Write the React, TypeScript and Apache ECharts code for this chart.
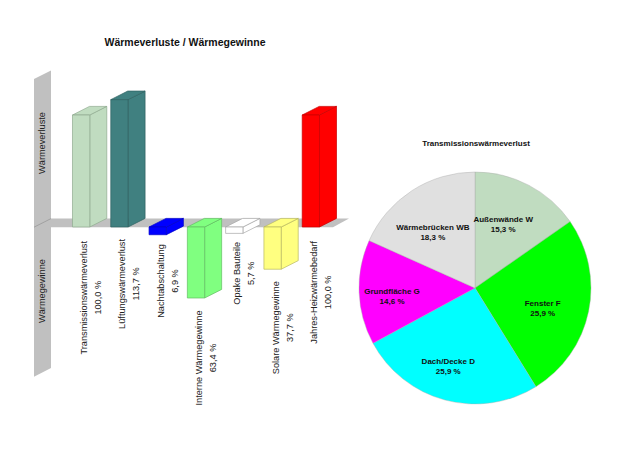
import React, { useEffect, useRef } from "react";
import * as echarts from "echarts";

const categories = ["Transmissionswärmeverlust", "Lüftungswärmeverlust", "Nachtabschaltung", "Interne Wärmegewinne", "Opake Bauteile", "Solare Wärmegewinne", "Jahres-Heizwärmebedarf"];
const barValues = [100.0, 113.7, -6.9, -63.4, -5.7, -37.7, 100.0];
const barColors = ["#c0dcc0", "#408080", "#0000ff", "#80ff80", "#ffffff", "#ffff80", "#ff0000"];
const barEdges = ["#8fab8f", "#2f6262", "#0000c8", "#62bd62", "#a8a8a8", "#b9b960", "#c80000"];
const labelGaps = [14, 12, 9.5, 12.5, 8.5, 12, 14];

const pieNames = ["Außenwände W", "Fenster F", "Dach/Decke D", "Grundfläche G", "Wärmebrücken WB"];
const pieValues = [15.3, 25.9, 25.9, 14.6, 18.3];
const pieColors = ["#c0dcc0", "#00ff00", "#00ffff", "#ff00ff", "#e0e0e0"];
const pieLabelOffsets = [[0, -9], [8, 8], [-11, 20], [-22, 6], [-9, -4]];

const FONT = "'Liberation Sans', Arial, sans-serif";
const LABEL_SIZE = 9.2;
const LABEL_FONT = `${LABEL_SIZE}px ${FONT}`;
const DEPTH_X = 17;
const DEPTH_Y = 8.6;
const WALL = "#c0c0c0";

const fmt = (v: number) => Math.abs(v).toFixed(1).replace(".", ",") + " %";

function textWidth(text: string) {
  const ctx = document.createElement("canvas").getContext("2d")!;
  ctx.font = `${LABEL_SIZE}px "Liberation Sans", Arial, sans-serif`;
  return ctx.measureText(text).width;
}

function renderBar(params: any, api: any) {
  const i = api.value(0);
  const v = api.value(1);
  const [cx, y0] = api.coord([i, 0]);
  const [, y1] = api.coord([i, v]);
  const w = api.size([1, 0])[0] * 0.452;
  const l = cx - w / 2;
  const r = cx + w / 2;
  const top = Math.min(y0, y1);
  const bottom = Math.max(y0, y1);
  const style = { fill: barColors[i], stroke: barEdges[i], lineWidth: 0.7 };
  const anchor = (v > 0 ? y0 : bottom) + labelGaps[i];
  const name = categories[i];
  const rot = Math.PI / 2;
  return {
    type: "group",
    children: [
      { type: "polygon", shape: { points: [[r, top], [r + DEPTH_X, top - DEPTH_Y], [r + DEPTH_X, bottom - DEPTH_Y], [r, bottom]] }, style },
      { type: "polygon", shape: { points: [[l, top], [l + DEPTH_X, top - DEPTH_Y], [r + DEPTH_X, top - DEPTH_Y], [r, top]] }, style },
      { type: "rect", shape: { x: l, y: top, width: w, height: bottom - top }, style },
      { type: "text", x: cx + 3, y: anchor, rotation: rot, style: { text: name, align: "right", verticalAlign: "middle", font: LABEL_FONT, fill: "#222" } },
      { type: "text", x: cx + 17, y: anchor + textWidth(name) / 2, rotation: rot, style: { text: fmt(v), align: "center", verticalAlign: "middle", font: LABEL_FONT, fill: "#222" } },
    ],
  };
}

export default function App() {
  const ref = useRef<HTMLDivElement>(null);
  useEffect(() => {
    const chart = echarts.init(ref.current!, undefined, { renderer: "svg" });
    chart.setOption({
      animation: false,
      backgroundColor: "#ffffff",
      title: [
        { text: "Wärmeverluste / Wärmegewinne", left: 180, top: 31, textAlign: "center", textStyle: { fontFamily: FONT, fontSize: 10.5, fontWeight: "bold", color: "#111" } },
        { text: "Transmissionswärmeverlust", left: 471, top: 134, textAlign: "center", textStyle: { fontFamily: FONT, fontSize: 8, fontWeight: "bold", color: "#111" } },
      ],
      grid: { left: 62, width: 268, top: 81.4, height: 291.2 },
      xAxis: { type: "category", data: categories, show: false },
      yAxis: { type: "value", min: -130, max: 130, show: false },
      graphic: [
        { type: "polygon", z: 0, shape: { points: [[34, 79], [51, 70.5], [51, 368], [34, 376.7]] }, style: { fill: WALL } },
        { type: "polygon", z: 0, shape: { points: [[34, 227.2], [51, 218.6], [349, 218.6], [333, 227.2]] }, style: { fill: WALL } },
        { type: "line", z: 1, shape: { x1: 34, y1: 227.2, x2: 51, y2: 218.6 }, style: { stroke: "#8c8c8c", lineWidth: 0.6 } },
        { type: "text", z: 1, x: 42, y: 143, rotation: Math.PI / 2, style: { text: "Wärmeverluste", align: "center", verticalAlign: "middle", font: LABEL_FONT, fill: "#222" } },
        { type: "text", z: 1, x: 42, y: 291, rotation: Math.PI / 2, style: { text: "Wärmegewinne", align: "center", verticalAlign: "middle", font: LABEL_FONT, fill: "#222" } },
      ],
      series: [
        {
          type: "custom",
          z: 3,
          coordinateSystem: "cartesian2d",
          renderItem: renderBar,
          clip: false,
          data: barValues.map((v, i) => [i, v]),
          encode: { x: 0, y: 1 },
        },
        {
          type: "pie",
          center: [475, 288],
          radius: [0, 116],
          startAngle: 90,
          clockwise: true,
          itemStyle: { borderColor: "#a8a8a8", borderWidth: 0.4 },
          label: {
            position: "inner",
            fontFamily: FONT,
            fontSize: 8,
            fontWeight: "bold",
            color: "#111",
            lineHeight: 10,
            align: "center",
            formatter: (p: any) => `${p.name}\n${fmt(p.value)}`,
          },
          labelLine: { show: false },
          data: pieNames.map((name, i) => ({
            name,
            value: pieValues[i],
            itemStyle: { color: pieColors[i] },
            label: { offset: pieLabelOffsets[i] },
          })),
        },
      ],
    });
    return () => chart.dispose();
  }, []);
  return <div ref={ref} style={{ position: "absolute", left: 0, top: 0, width: 620, height: 465 }} />;
}
